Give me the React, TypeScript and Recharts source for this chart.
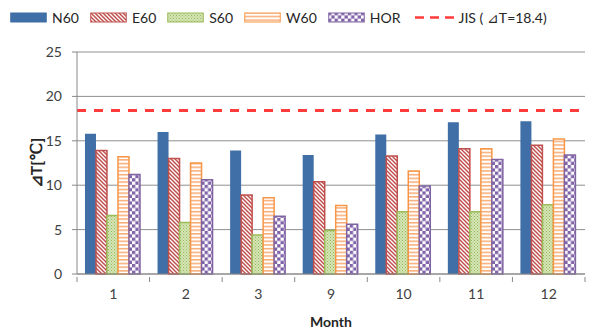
import { BarChart, Bar, XAxis, YAxis, CartesianGrid, ReferenceLine } from "recharts";

const months = ["1", "2", "3", "9", "10", "11", "12"];
const n60 = [15.8, 16.0, 13.9, 13.4, 15.7, 17.1, 17.2];
const e60 = [13.9, 13.0, 8.9, 10.4, 13.3, 14.1, 14.5];
const s60 = [6.6, 5.8, 4.4, 4.9, 7.0, 7.0, 7.8];
const w60 = [13.2, 12.5, 8.6, 7.7, 11.6, 14.1, 15.2];
const hor = [11.2, 10.6, 6.5, 5.6, 9.9, 12.9, 13.4];
const jis = 18.4;
const yTicks = [0, 5, 10, 15, 20, 25];

const data = months.map((m, i) => ({
  month: m,
  N60: n60[i],
  E60: e60[i],
  S60: s60[i],
  W60: w60[i],
  HOR: hor[i],
}));

const FONT = "Lato, 'Liberation Sans', sans-serif";
const W = 603;
const H = 331;
const PLOT_LEFT = 77;
const PLOT_RIGHT = 585;

const series = [
  { key: "N60", fill: "#3f6fa6", stroke: "none" },
  { key: "E60", fill: "url(#pE60)", stroke: "#c0504d" },
  { key: "S60", fill: "url(#pS60)", stroke: "#9bbb59" },
  { key: "W60", fill: "url(#pW60)", stroke: "#f79646" },
  { key: "HOR", fill: "url(#pHOR)", stroke: "#8064a2" },
];

function Patterns() {
  return (
    <defs>
      <pattern id="pE60" patternUnits="userSpaceOnUse" width="4" height="4">
        <rect width="4" height="4" fill="#fff" />
        <path d="M0,0 L4,4 M-1,3 L1,5 M3,-1 L5,1" stroke="#c0504d" strokeWidth="1.5" />
      </pattern>
      <pattern id="pS60" patternUnits="userSpaceOnUse" width="3" height="3">
        <rect width="3" height="3" fill="#d3e4b6" />
        <rect width="1" height="1" fill="#9bbb59" />
        <rect x="1.5" y="1.5" width="1" height="1" fill="#a9c76f" />
      </pattern>
      <pattern id="pW60" patternUnits="userSpaceOnUse" width="4" height="3.7">
        <rect width="4" height="3.7" fill="#fff" />
        <rect width="4" height="1.5" fill="#f9ab73" />
      </pattern>
      <pattern id="pHOR" patternUnits="userSpaceOnUse" width="6.6" height="6.6">
        <rect width="6.6" height="6.6" fill="#fff" />
        <rect width="3.3" height="3.3" fill="#7f62a8" />
        <rect x="3.3" y="3.3" width="3.3" height="3.3" fill="#7f62a8" />
      </pattern>
    </defs>
  );
}

// labels sit at the band centre, tick marks at the band edges (Excel style)
function MonthTick(props: any) {
  const { x, y, payload, index } = props;
  const band = (PLOT_RIGHT - PLOT_LEFT) / months.length;
  const left = x - band / 2;
  return (
    <g>
      <line x1={left} y1={y - 5} x2={left} y2={y} stroke="#888" />
      {index === months.length - 1 && (
        <line x1={left + band} y1={y - 5} x2={left + band} y2={y} stroke="#888" />
      )}
      <text x={x} y={y + 17} textAnchor="middle" fontSize={14} fill="#404040" fontFamily={FONT}>
        {payload.value}
      </text>
    </g>
  );
}

function Legend() {
  return (
    <div
      style={{
        position: "absolute",
        top: 9,
        left: 10,
        display: "flex",
        alignItems: "center",
        fontFamily: FONT,
        fontSize: 14,
        color: "#262626",
        whiteSpace: "nowrap",
      }}
    >
      {series.map((s) => (
        <div key={s.key} style={{ display: "flex", alignItems: "center", marginRight: 11 }}>
          <svg width={37} height={11} style={{ marginRight: 5 }}>
            <rect
              x={0.75}
              y={1}
              width={35.5}
              height={9}
              fill={s.fill}
              stroke={s.stroke === "none" ? s.fill : s.stroke}
              strokeWidth={1}
            />
          </svg>
          <span>{s.key}</span>
        </div>
      ))}
      <div style={{ display: "flex", alignItems: "center", marginLeft: 3 }}>
        <svg width={40} height={11} style={{ marginRight: 4 }}>
          <line x1={0} y1={5.5} x2={40} y2={5.5} stroke="#ff3b3b" strokeWidth={2.5} strokeDasharray="9 6" />
        </svg>
        <span>JIS ( ⊿T=18.4)</span>
      </div>
    </div>
  );
}

export default function App() {
  return (
    <div style={{ position: "absolute", left: 0, top: 0, width: W, height: H, background: "#fff" }}>
      <BarChart
        width={W}
        height={H}
        data={data}
        margin={{ top: 52, right: W - PLOT_RIGHT, bottom: 0, left: 0 }}
        barCategoryGap="11%"
        barGap={0}
      >
        <Patterns />
        <CartesianGrid vertical={false} stroke="#8f8f8f" />
        <XAxis
          dataKey="month"
          height={57}
          axisLine={{ stroke: "#888" }}
          tickLine={false}
          tick={<MonthTick />}
          interval={0}
          label={(p: any) => {
            const vb = p.viewBox || {};
            return (
              <text
                x={vb.x + vb.width / 2}
                y={vb.y + 53}
                textAnchor="middle"
                fontSize={14}
                fontWeight="bold"
                fill="#262626"
                fontFamily={FONT}
              >
                Month
              </text>
            );
          }}
        />
        <YAxis
          width={PLOT_LEFT}
          domain={[0, 25]}
          ticks={yTicks}
          interval={0}
          axisLine={{ stroke: "#888" }}
          tickLine={{ stroke: "#888" }}
          tickSize={5}
          tickMargin={10}
          tick={{ fontSize: 14, fill: "#404040", fontFamily: FONT }}
          label={(p: any) => {
            const vb = p.viewBox || {};
            const cx = 35;
            const cy = vb.y + vb.height / 2;
            return (
              <text
                x={cx}
                y={cy}
                transform={`rotate(-90 ${cx} ${cy})`}
                textAnchor="middle"
                dominantBaseline="central"
                fontSize={16}
                fontWeight="bold"
                fill="#262626"
                fontFamily={FONT}
              >
                ⊿T[℃]
              </text>
            );
          }}
        />
        <YAxis
          yAxisId="right"
          orientation="right"
          width={0}
          domain={[0, 25]}
          tick={false}
          tickLine={false}
          axisLine={{ stroke: "#999" }}
        />
        {series.map((s) => (
          <Bar
            key={s.key}
            dataKey={s.key}
            fill={s.fill}
            stroke={s.stroke}
            strokeWidth={s.stroke === "none" ? 0 : 1.5}
            isAnimationActive={false}
          />
        ))}
        <ReferenceLine y={jis} stroke="#ff3b3b" strokeWidth={3} strokeDasharray="9 8" />
      </BarChart>
      <Legend />
    </div>
  );
}
